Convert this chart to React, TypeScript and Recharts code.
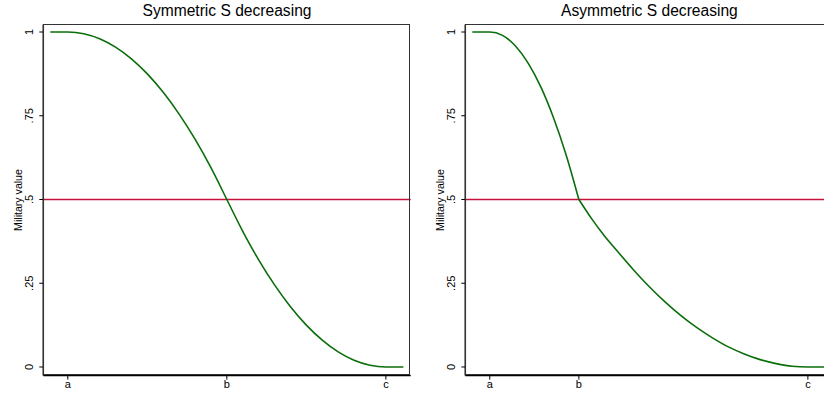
import React from 'react';
import { LineChart, Line, XAxis, YAxis, ReferenceLine } from 'recharts';

// x positions are in percent of the a..c range (a = 0, c = 100)
const symX = [-5.5, 0, 5, 10, 15, 20, 25, 30, 35, 40, 45, 50, 55, 60, 65, 70, 75, 80, 85, 90, 95, 100, 105.5];
const symY = [1, 1, 0.995, 0.98, 0.955, 0.92, 0.875, 0.82, 0.755, 0.68, 0.595, 0.5, 0.405, 0.32, 0.245, 0.18, 0.125, 0.08, 0.045, 0.02, 0.005, 0, 0];

// asymmetric curve has a kink at b, so it is drawn as two pieces
const asymUpperX = [-5.5, 0, 4, 8, 12, 16, 20, 24, 28];
const asymUpperY = [1, 1, 0.99, 0.959, 0.908, 0.837, 0.745, 0.633, 0.5];
const asymLowerX = [28, 32, 36, 40, 45, 50, 55, 60, 65, 70, 75, 80, 85, 90, 95, 100, 105.5];
const asymLowerY = [0.5, 0.443, 0.392, 0.347, 0.292, 0.241, 0.195, 0.154, 0.118, 0.087, 0.06, 0.039, 0.022, 0.01, 0.002, 0, 0];

const symTicks = [0, 50, 100];
const asymTicks = [0, 28, 100];
const tickNames = ['a', 'b', 'c'];
const yTicks = [0, 0.25, 0.5, 0.75, 1];
const yTickLabels = ['0', '.25', '.5', '.75', '1'];
const cutoff = 0.5;

const FONT = '"Liberation Sans", Arial, Helvetica, sans-serif';
const X_DOMAIN = [-7.7, 107.8];
const Y_DOMAIN = [-0.0257, 1.0227];

function YTick(props: any) {
  const { x, y, payload } = props;
  const i = yTicks.indexOf(payload.value);
  return (
    <text
      x={x}
      y={y}
      transform={`rotate(-90, ${x}, ${y})`}
      textAnchor="middle"
      dominantBaseline="central"
      fontSize={11}
      fontFamily={FONT}
      fill="#000"
    >
      {i >= 0 ? yTickLabels[i] : payload.value}
    </text>
  );
}

function YTitle(props: any) {
  const vb = props.viewBox || { x: 0, y: 24, height: 351 };
  const cx = vb.x + 18;
  const cy = vb.y + vb.height / 2;
  return (
    <text
      x={cx}
      y={cy}
      transform={`rotate(-90, ${cx}, ${cy})`}
      textAnchor="middle"
      dominantBaseline="central"
      fontSize={10.6}
      fontFamily={FONT}
      fill="#000"
    >
      Military value
    </text>
  );
}

interface Piece {
  xs: number[];
  ys: number[];
}

interface PanelProps {
  title: string;
  pieces: Piece[];
  ticks: number[];
  left: number;
}

function Panel({ title, pieces, ticks, left }: PanelProps) {
  // one row per x, one column per piece
  const rows: any[] = [];
  pieces.forEach((p, k) => {
    p.xs.forEach((x, i) => {
      let row = rows.find((r) => r.x === x);
      if (!row) {
        row = { x };
        rows.push(row);
      }
      row['y' + k] = p.ys[i];
    });
  });
  rows.sort((a, b) => a.x - b.x);

  return (
    <div style={{ position: 'absolute', left, top: 0, width: 420, height: 393 }}>
      <div
        style={{
          position: 'absolute',
          left: 43.3,
          width: 367.4,
          top: 2,
          textAlign: 'center',
          fontFamily: FONT,
          fontSize: 15.6,
          color: '#000',
          whiteSpace: 'nowrap',
        }}
      >
        {title}
      </div>
      <LineChart
        width={420}
        height={393}
        data={rows}
        margin={{ top: 24.4, right: 9.3, left: 0, bottom: 0 }}
      >
        <XAxis
          dataKey="x"
          type="number"
          domain={X_DOMAIN}
          ticks={ticks}
          tickFormatter={(v: number) => tickNames[ticks.indexOf(v)] ?? ''}
          height={17.4}
          tickSize={4}
          tickMargin={1}
          axisLine={{ stroke: '#000', strokeWidth: 1.5 }}
          tickLine={{ stroke: '#000', strokeWidth: 1 }}
          tick={{ fontSize: 11, fontFamily: FONT, fill: '#000' }}
          allowDataOverflow
        />
        <YAxis
          type="number"
          domain={Y_DOMAIN}
          ticks={yTicks}
          width={43.3}
          tickSize={4}
          tickMargin={10}
          axisLine={{ stroke: '#000', strokeWidth: 1.5 }}
          tickLine={{ stroke: '#000', strokeWidth: 1 }}
          tick={<YTick />}
          label={<YTitle />}
          allowDataOverflow
        />
        <ReferenceLine y={cutoff} stroke="#c8103c" strokeWidth={1.3} />
        {pieces.map((_, k) => (
          <Line
            key={k}
            type="monotone"
            dataKey={'y' + k}
            stroke="#0a6e0a"
            strokeWidth={1.6}
            dot={false}
            connectNulls
            isAnimationActive={false}
          />
        ))}
      </LineChart>
      {/* plot region outline */}
      <div
        style={{
          position: 'absolute',
          left: 42.6,
          top: 23.7,
          width: 367.4,
          height: 351.2,
          border: '1.4px solid #333',
          boxSizing: 'border-box',
          pointerEvents: 'none',
        }}
      />
    </div>
  );
}

export default function App() {
  return (
    <div
      style={{
        position: 'absolute',
        left: 0,
        top: 0,
        width: 824,
        height: 393,
        overflow: 'hidden',
        background: '#fff',
      }}
    >
      <Panel
        title="Symmetric S decreasing"
        pieces={[{ xs: symX, ys: symY }]}
        ticks={symTicks}
        left={0}
      />
      <Panel
        title="Asymmetric S decreasing"
        pieces={[
          { xs: asymUpperX, ys: asymUpperY },
          { xs: asymLowerX, ys: asymLowerY },
        ]}
        ticks={asymTicks}
        left={422.4}
      />
    </div>
  );
}
